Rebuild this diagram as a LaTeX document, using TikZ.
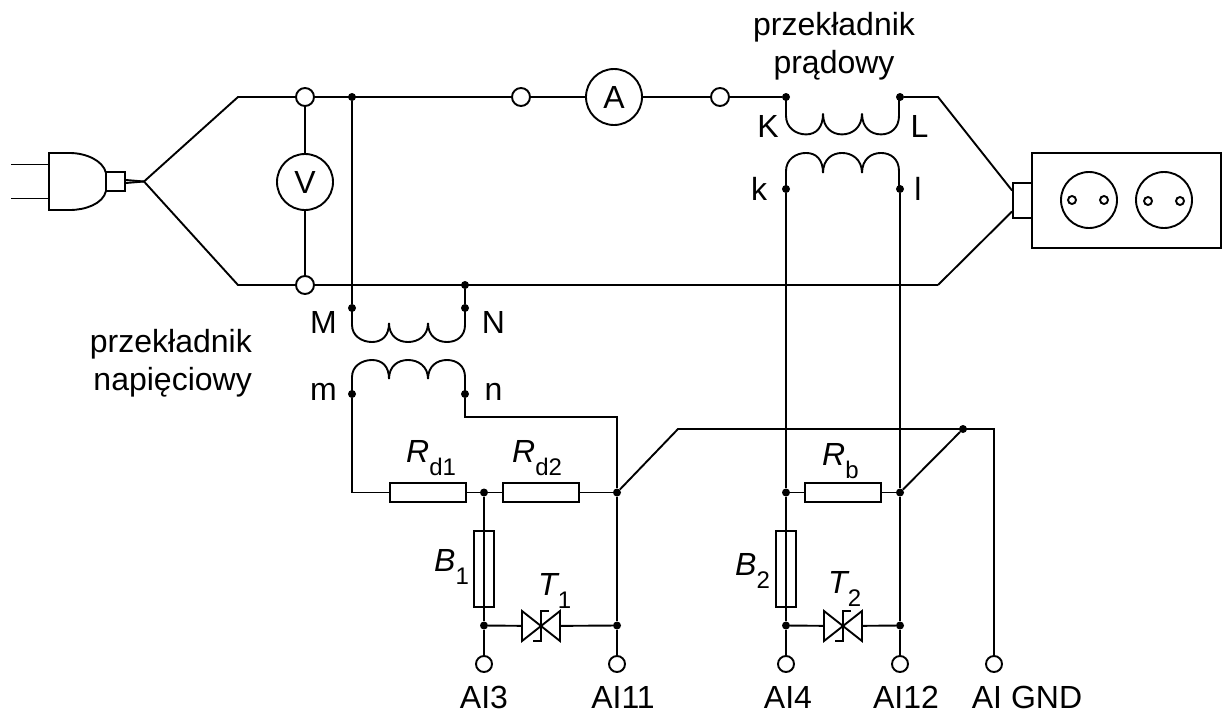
\documentclass[tikz,border=0pt]{standalone}
\usepackage{fontspec}
\setmainfont{Liberation Sans}
\newcommand{\indexed}[2]{{\itshape #1}\raisebox{-13pt}{\fontsize{24}{26}\selectfont #2}}
\tikzset{
  wire/.style={line width=1.9pt},
  dot/.style={circle,fill=black,inner sep=0pt,minimum size=8pt},
  term/.style={circle,draw,line width=1.9pt,inner sep=0pt,minimum size=18pt},
  meter/.style={circle,draw,line width=1.9pt,inner sep=0pt,minimum size=56pt},
  resistor/.style={rectangle,draw,line width=1.9pt,inner sep=0pt,minimum width=76pt,minimum height=19pt},
  fuse/.style={rectangle,draw,line width=1.9pt,inner sep=0pt,minimum width=20pt,minimum height=76pt},
  triac/.style={rectangle,inner sep=0pt,minimum width=38pt,minimum height=30pt},
  txt/.style={anchor=base,inner sep=0pt},
  idx/.style={anchor=base west,inner sep=0pt},
  coil/.pic={
    \draw[wire] (0,0) -- (0,17) .. controls (0,28) and (10,34) .. (20,34)
      .. controls (30,34) and (37,28) .. (37,15) .. controls (37,28) and (46,34) .. (56,34)
      .. controls (66,34) and (76,28) .. (76,15) .. controls (76,28) and (85,34) .. (95,34)
      .. controls (105,34) and (113,28) .. (113,17) -- (113,0);
  },
  bowtie/.pic={
    \draw[wire] (-19,-15) -- (19,15) -- (19,-15) -- (-19,15) -- cycle;
    \draw[wire] (8,-15) -- (0,-15) -- (0,15) -- (-8,15);
  }
}
\begin{document}
\begin{tikzpicture}[x=1pt,y=-1pt,font=\fontsize{32}{37.5}\selectfont]
  \useasboundingbox (0,0) rectangle (1222,715);
  % plug
  \draw[wire] (11,164.5) -- (49,164.5);
  \draw[wire] (11,198.5) -- (49,198.5);
  \draw[wire] (49,153) -- (70,153) .. controls (85,153) and (103,160) .. (106,173) -- (106,191)
    .. controls (103,204) and (85,210) .. (70,210) -- (49,210) -- cycle;
  \node (plug) at (115.5,181.5) [rectangle,draw,line width=1.9pt,inner sep=0pt,minimum width=19pt,minimum height=19pt] {};
  \coordinate (fork) at (144,181.5);
  \draw[wire] ([yshift=1.5pt]plug.east) -- (fork);
  \draw[wire] ([yshift=-1.5pt]plug.east) -- (fork);
  \coordinate (lineT) at (238,97);
  \coordinate (lineB) at (238,285);
  % measuring points on the line
  \node (vtop) at (305,97) [term] {};
  \node (vbot) at (305,285) [term] {};
  \node (volt) at (305,182) [meter] {V};
  \node (amin) at (521,97) [term] {};
  \node (amp) at (614,97) [meter] {A};
  \node (amout) at (720,97) [term] {};
  \node (dline) at (352,97) [dot] {};
  \node (dKK) at (786,97) [dot] {};
  \node (dLL) at (900,97) [dot] {};
  \node (dNbus) at (465,285) [dot] {};
  \coordinate (outT) at (938,97);
  \coordinate (outB) at (938,285);
  \draw[wire] (fork) -- (lineT) -- (vtop);
  \draw[wire] (fork) -- (lineB) -- (vbot);
  \draw[wire] (vtop) -- (volt);
  \draw[wire] (volt) -- (vbot);
  \draw[wire] (vtop) -- (amin);
  \draw[wire] (amin) -- (amp);
  \draw[wire] (amp) -- (amout);
  \draw[wire] (amout) -- (dKK);
  \draw[wire] (vbot) -- (outB);
  % socket
  \node (sockbox) at (1126.5,200.5) [rectangle,draw,line width=1.9pt,inner sep=0pt,minimum width=189pt,minimum height=95pt] {};
  \node (socklead) at (1022.5,200.5) [rectangle,draw,line width=1.9pt,inner sep=0pt,minimum width=19pt,minimum height=35pt] {};
  \node (sockA) at (1089,200) [circle,draw,line width=1.9pt,inner sep=0pt,minimum size=56pt] {};
  \node (sockB) at (1164,200) [circle,draw,line width=1.9pt,inner sep=0pt,minimum size=56pt] {};
  \node (holeA) at (1072,200) [circle,draw,line width=1.9pt,inner sep=0pt,minimum size=8pt] {};
  \node (holeB) at (1104,200) [circle,draw,line width=1.9pt,inner sep=0pt,minimum size=8pt] {};
  \node (holeC) at (1148,201) [circle,draw,line width=1.9pt,inner sep=0pt,minimum size=8pt] {};
  \node (holeD) at (1180,201) [circle,draw,line width=1.9pt,inner sep=0pt,minimum size=8pt] {};
  \draw[wire] (dLL) -- (outT) -- ([yshift=10pt]socklead.west);
  \draw[wire] (outB) -- ([yshift=-11pt]socklead.west);
  % transformers
  \node (dM) at (352,308) [dot] {};
  \node (dN) at (465,308) [dot] {};
  \node (dm) at (352,394) [dot] {};
  \node (dn) at (465,394) [dot] {};
  \node (dk) at (786,189) [dot] {};
  \node (dl) at (900,189) [dot] {};
  \draw (dM) pic {coil};
  \draw (dm) pic[yscale=-1] {coil};
  \draw (dKK) pic[yscale=1.1] {coil};
  \draw (dk) pic[yscale=-1.06] {coil};
  \draw[wire] (dline) -- (dM);
  \draw[wire] (dNbus) -- (dN);
  % measuring resistors
  \node (rd1) at (428,492.5) [resistor] {};
  \node (rd2) at (541,492.5) [resistor] {};
  \node (rb) at (843,492.5) [resistor] {};
  \node (dr1) at (484,492.5) [dot] {};
  \node (dr2) at (617,492.5) [dot] {};
  \node (drk) at (786,492.5) [dot] {};
  \node (drl) at (900,492.5) [dot] {};
  \node (dgnd) at (963,429) [dot] {};
  \coordinate (gndL) at (678,429);
  \coordinate (gndR) at (994,429);
  \coordinate (mcorner) at (352,492.5);
  \coordinate (ncorner) at (465,417);
  \coordinate (ncornerR) at (617,417);
  \node (ai3) at (484,664) [term,minimum size=16pt] {};
  \node (ai11) at (617,664) [term,minimum size=16pt] {};
  \node (ai4) at (786,664) [term,minimum size=16pt] {};
  \node (ai12) at (900,664) [term,minimum size=16pt] {};
  \node (aignd) at (994,664) [term,minimum size=16pt] {};
  \node (b1) at (484,569) [fuse] {};
  \node (b2) at (786,569) [fuse] {};
  \node (t1) at (541,626) [triac] {};
  \node (t2) at (843,626) [triac] {};
  \node (dt1a) at (484,625.5) [dot] {};
  \node (dt1b) at (617,625.5) [dot] {};
  \node (dt2a) at (786,625.5) [dot] {};
  \node (dt2b) at (900,625.5) [dot] {};
  \draw (t1) pic {bowtie};
  \draw (t2) pic {bowtie};
  \draw[wire] (dm) -- (mcorner) -- (rd1);
  \draw[wire] (dn) -- (ncorner) -- (ncornerR) -- (dr2);
  \draw[wire] (rd1) -- (dr1) -- (rd2) -- (dr2);
  \draw[wire] (dr2) -- (dt1b) -- (ai11);
  \draw[wire] (dr1) -- (dt1a) -- (ai3);
  \draw[wire] (dt1a) -- (t1);
  \draw[wire] (t1) -- (dt1b);
  \draw[wire] (dr2) -- (gndL) -- (gndR) -- (aignd);
  \draw[wire] (drl) -- (dgnd);
  \draw[wire] (dk) -- (drk) -- (dt2a) -- (ai4);
  \draw[wire] (dl) -- (drl) -- (dt2b) -- (ai12);
  \draw[wire] (drk) -- (rb);
  \draw[wire] (rb) -- (drl);
  \draw[wire] (dt2a) -- (t2);
  \draw[wire] (t2) -- (dt2b);
  % texts
  \node (ctlabel) at (834,46) [align=center,inner sep=0pt] {przekładnik\\prądowy};
  \node (vtlabel) at (252,363) [align=right,anchor=east,inner sep=0pt] {przekładnik\\napięciowy};
  \node (lK) at (768,137) [txt] {K};
  \node (lL) at (919.5,137) [txt] {L};
  \node (lk) at (759,200.5) [txt] {k};
  \node (ll) at (918,200.5) [txt] {l};
  \node (lM) at (323.5,333) [txt] {M};
  \node (lN) at (493.5,333) [txt] {N};
  \node (lm) at (323.5,400) [txt] {m};
  \node (ln) at (493.5,400) [txt] {n};
  \node (lrd1) at (406,462) [idx] {\indexed{R}{d1}};
  \node (lrd2) at (512,462) [idx] {\indexed{R}{d2}};
  \node (lrb) at (822,465) [idx] {\indexed{R}{b}};
  \node (lb1) at (434,571) [idx] {\indexed{B}{1}};
  \node (lb2) at (735,575) [idx] {\indexed{B}{2}};
  \node (lt1) at (538,595) [idx] {\indexed{T}{1}};
  \node (lt2) at (828,593) [idx] {\indexed{T}{2}};
  \node (lai3) at (484,708) [txt] {AI3};
  \node (lai11) at (623,708) [txt] {AI11};
  \node (lai4) at (788,708) [txt] {AI4};
  \node (lai12) at (906,708) [txt] {AI12};
  \node (lgnd) at (1027,708) [txt] {AI GND};
\end{tikzpicture}
\end{document}
